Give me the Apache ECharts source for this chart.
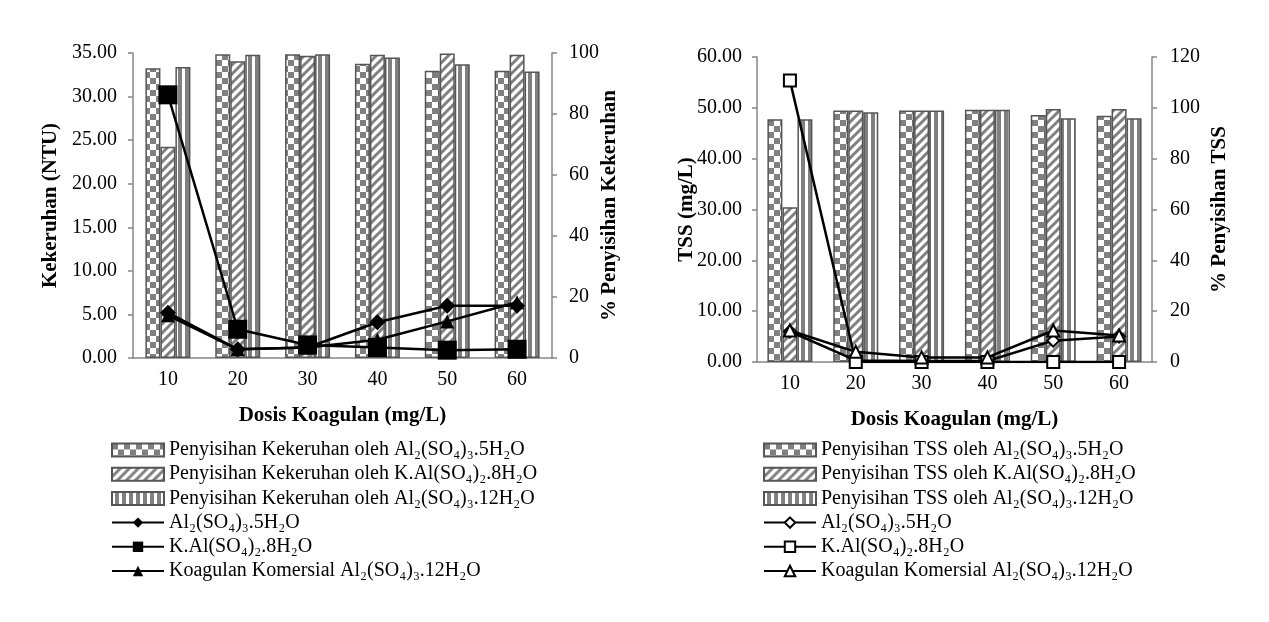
<!DOCTYPE html>
<html><head><meta charset="utf-8">
<script src="https://cdn.jsdelivr.net/npm/echarts@6/dist/echarts.min.js"></script>
<style>html,body{margin:0;padding:0;background:#fff}#c{width:1269px;height:622px}</style>
</head><body><div id="c"></div>
<script>
// ---------- DATA ----------
const categories = ['10', '20', '30', '40', '50', '60'];

// Left chart: turbidity (NTU) lines and % removal bars
const ntuAl5 = [5.2, 1.0, 1.2, 4.1, 6.0, 6.0];
const ntuKAl8 = [30.2, 3.3, 1.5, 1.2, 0.9, 1.0];
const ntuKomersial = [4.9, 1.0, 1.2, 2.1, 4.2, 6.4];
const remKekAl5 = [95.0, 99.6, 99.6, 96.5, 94.2, 94.2];
const remKekKAl8 = [69.3, 97.3, 99.1, 99.4, 99.8, 99.4];
const remKekAl12 = [95.4, 99.4, 99.6, 98.5, 96.3, 93.9];

// Right chart: TSS (mg/L) lines and % removal bars
const tssAl5 = [6.0, 0.3, 0.2, 0.2, 4.2, 5.0];
const tssKAl8 = [55.4, 0, 0, 0, 0, 0];
const tssKomersial = [6.2, 2.0, 0.9, 0.9, 6.2, 5.2];
const remTssAl5 = [95.5, 99.0, 99.0, 99.2, 97.2, 96.9];
const remTssKAl8 = [60.9, 99.0, 99.0, 99.2, 99.5, 99.5];
const remTssAl12 = [95.5, 98.3, 99.0, 99.2, 95.9, 95.9];

const namesLeft = [
  'Penyisihan Kekeruhan oleh Al₂(SO₄)₃.5H₂O',
  'Penyisihan Kekeruhan oleh K.Al(SO₄)₂.8H₂O',
  'Penyisihan Kekeruhan oleh Al₂(SO₄)₃.12H₂O',
  'Al₂(SO₄)₃.5H₂O ',
  'K.Al(SO₄)₂.8H₂O ',
  'Koagulan Komersial Al₂(SO₄)₃.12H₂O '
];
const namesRight = [
  'Penyisihan TSS oleh Al₂(SO₄)₃.5H₂O',
  'Penyisihan TSS oleh K.Al(SO₄)₂.8H₂O',
  'Penyisihan TSS oleh Al₂(SO₄)₃.12H₂O',
  'Al₂(SO₄)₃.5H₂O',
  'K.Al(SO₄)₂.8H₂O',
  'Koagulan Komersial Al₂(SO₄)₃.12H₂O'
];

// ---------- PATTERNS ----------
const GRAY = '#808080';
function mk(w, h, draw) {
  const c = document.createElement('canvas'); c.width = w; c.height = h;
  const g = c.getContext('2d'); g.fillStyle = '#fff'; g.fillRect(0, 0, w, h); draw(g); return c;
}
const checker = mk(12, 12, g => { g.fillStyle = GRAY; g.fillRect(0, 0, 6, 6); g.fillRect(6, 6, 6, 6); });
const hatch = mk(9, 9, g => {
  g.strokeStyle = GRAY; g.lineWidth = 3;
  g.beginPath();
  for (let k = -9; k <= 18; k += 9) { g.moveTo(k - 3, 12); g.lineTo(k + 12, -3); }
  g.stroke();
});
const vstripe = mk(7, 7, g => { g.fillStyle = GRAY; g.fillRect(3, 0, 4, 7); });
const pat = c => ({ image: c, repeat: 'repeat' });

const FONT = 'Liberation Serif';
const AXC = '#868686';

function barSeries(name, data, p, xi, yi) {
  return {
    name, type: 'bar', data, xAxisIndex: xi, yAxisIndex: yi,
    barWidth: 15, barGap: '0%', z: 1,
    itemStyle: { color: pat(p), borderColor: '#555', borderWidth: 1.5 }
  };
}
function lineSeries(name, data, sym, size, filled, xi, yi) {
  return {
    name, type: 'line', data, xAxisIndex: xi, yAxisIndex: yi, z: 5,
    symbol: sym, symbolSize: size, showSymbol: true,
    lineStyle: { color: '#000', width: 2.5 },
    itemStyle: { color: filled ? '#000' : '#fff', borderColor: '#000', borderWidth: filled ? 0 : 2 },
    emphasis: { disabled: true }
  };
}

function yAxisBase(gi, pos, min, max, interval, fmt, name, gap, margin) {
  return {
    gridIndex: gi, type: 'value', position: pos, min, max, interval,
    name, nameLocation: 'middle', nameGap: gap, nameRotate: 90, nameMoveOverlap: false,
    nameTextStyle: { fontFamily: FONT, fontWeight: 'bold', fontSize: 21, color: '#000' },
    axisLine: { show: true, lineStyle: { color: AXC, width: 1.5 } },
    axisTick: { show: true, length: 5, lineStyle: { color: AXC, width: 1.5 } },
    axisLabel: { fontFamily: FONT, fontSize: 20, color: '#000', margin, formatter: fmt },
    splitLine: { show: false }
  };
}
function xAxisBase(gi) {
  return {
    gridIndex: gi, type: 'category', data: categories,
    name: 'Dosis Koagulan (mg/L)', nameLocation: 'middle', nameGap: 47, nameMoveOverlap: false,
    nameTextStyle: { fontFamily: FONT, fontWeight: 'bold', fontSize: 21, color: '#000' },
    axisLine: { lineStyle: { color: AXC, width: 1.5 } },
    axisTick: { length: 5, lineStyle: { color: AXC, width: 1.5 } },
    axisLabel: { fontFamily: FONT, fontSize: 20, color: '#000', margin: 12 }
  };
}
const legendBase = {
  orient: 'vertical', itemWidth: 52, itemHeight: 13, itemGap: 4.2,
  textStyle: { fontFamily: FONT, fontSize: 20, lineHeight: 20, color: '#000' },
  selectedMode: false, padding: 0
};
function legendData(names) {
  return names.map((n, i) => i < 3 ? { name: n, icon: 'rect' } : { name: n });
}

const option = {
  animation: false,
  grid: [
    { left: 133, top: 53, width: 419, height: 305 },
    { left: 757, top: 57, width: 395, height: 305 }
  ],
  xAxis: [xAxisBase(0), xAxisBase(1)],
  yAxis: [
    yAxisBase(0, 'left', 0, 35, 5, v => v.toFixed(2), 'Kekeruhan (NTU)', 72, 16),
    yAxisBase(0, 'right', 0, 100, 20, v => String(v), '% Penyisihan Kekeruhan', 47, 17),
    yAxisBase(1, 'left', 0, 60, 10, v => v.toFixed(2), 'TSS (mg/L)', 60, 15),
    yAxisBase(1, 'right', 0, 120, 20, v => String(v), '% Penyisihan TSS', 57, 18)
  ],
  legend: [
    Object.assign({}, legendBase, { left: 111, top: 440, data: legendData(namesLeft) }),
    Object.assign({}, legendBase, { left: 763, top: 440, data: legendData(namesRight) })
  ],
  series: [
    barSeries(namesLeft[0], remKekAl5, checker, 0, 1),
    barSeries(namesLeft[1], remKekKAl8, hatch, 0, 1),
    barSeries(namesLeft[2], remKekAl12, vstripe, 0, 1),
    lineSeries(namesLeft[3], ntuAl5, 'diamond', 16, true, 0, 0),
    lineSeries(namesLeft[4], ntuKAl8, 'rect', 19, true, 0, 0),
    lineSeries(namesLeft[5], ntuKomersial, 'triangle', 14, true, 0, 0),
    barSeries(namesRight[0], remTssAl5, checker, 1, 3),
    barSeries(namesRight[1], remTssKAl8, hatch, 1, 3),
    barSeries(namesRight[2], remTssAl12, vstripe, 1, 3),
    lineSeries(namesRight[3], tssAl5, 'diamond', 12, false, 1, 2),
    lineSeries(namesRight[4], tssKAl8, 'rect', 12, false, 1, 2),
    lineSeries(namesRight[5], tssKomersial, 'triangle', 12, false, 1, 2)
  ]
};
const chart = echarts.init(document.getElementById('c'), null, { renderer: 'canvas' });
chart.setOption(option);
</script></body></html>
